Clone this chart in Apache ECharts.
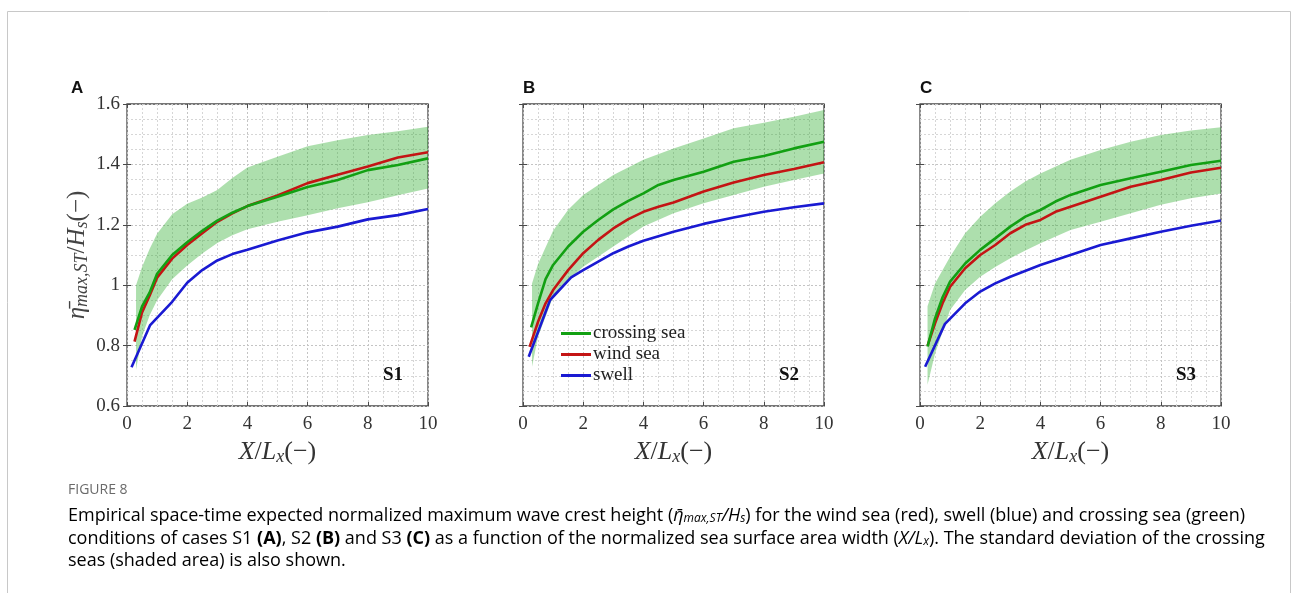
<!DOCTYPE html>
<html><head><meta charset="utf-8">
<script src="https://cdn.jsdelivr.net/npm/echarts@6/dist/echarts.min.js"></script>
<style>html,body{margin:0;padding:0;background:#fff}#c{width:1293px;height:593px}</style>
</head><body><div id="c"></div>
<script>
// ---- data ----
const panelNames = ['A', 'B', 'C'];
const caseNames = ['S1', 'S2', 'S3'];
const seriesNames = ['crossing sea', 'wind sea', 'swell'];
const xTicks = [0, 2, 4, 6, 8, 10];
const yTicks = [0.6, 0.8, 1, 1.2, 1.4, 1.6];

// Panel A (S1)
const swellX_A = [0.15, 0.77, 1.5, 2, 2.5, 3, 3.5, 4, 5, 6, 7, 8, 9, 10];
const swell_A = [0.728, 0.868, 0.945, 1.008, 1.05, 1.082, 1.103, 1.117, 1.148, 1.175, 1.194, 1.218, 1.232, 1.252];
const windX_A = [0.25, 0.5, 0.75, 1, 1.5, 2, 2.5, 3, 3.5, 4, 5, 6, 7, 8, 9, 10];
const wind_A = [0.813, 0.91, 0.965, 1.025, 1.088, 1.133, 1.172, 1.21, 1.238, 1.262, 1.297, 1.338, 1.366, 1.393, 1.423, 1.44];
const crossX_A = [0.25, 0.5, 0.75, 1, 1.5, 2, 2.5, 3, 3.5, 4, 5, 6, 7, 8, 9, 10];
const cross_A = [0.852, 0.93, 0.975, 1.038, 1.1, 1.142, 1.18, 1.214, 1.24, 1.262, 1.293, 1.325, 1.348, 1.381, 1.398, 1.42];
const bandX_A = [0.3, 0.5, 0.75, 1, 1.5, 2, 2.5, 3, 3.5, 4, 5, 6, 7, 8, 9, 10];
const bandUp_A = [1.0, 1.06, 1.12, 1.17, 1.235, 1.27, 1.29, 1.315, 1.355, 1.39, 1.425, 1.46, 1.48, 1.497, 1.51, 1.525];
const bandLo_A = [0.72, 0.83, 0.9, 0.95, 1.02, 1.065, 1.105, 1.14, 1.165, 1.185, 1.21, 1.232, 1.255, 1.275, 1.298, 1.32];

// Panel B (S2)
const swellX_B = [0.19, 0.9, 1.6, 2, 2.5, 3, 3.5, 4, 5, 6, 7, 8, 9, 10];
const swell_B = [0.763, 0.951, 1.026, 1.05, 1.078, 1.106, 1.128, 1.147, 1.177, 1.203, 1.224, 1.243, 1.258, 1.271];
const windX_B = [0.22, 0.5, 0.75, 1, 1.5, 2, 2.5, 3, 3.5, 4, 4.5, 5, 6, 7, 8, 9, 10];
const wind_B = [0.796, 0.879, 0.94, 0.984, 1.05, 1.106, 1.15, 1.188, 1.219, 1.243, 1.26, 1.274, 1.31, 1.34, 1.365, 1.385, 1.407];
const crossX_B = [0.27, 0.5, 0.75, 1, 1.5, 2, 2.5, 3, 3.5, 4, 4.5, 5, 6, 7, 8, 9, 10];
const cross_B = [0.86, 0.94, 1.02, 1.067, 1.128, 1.177, 1.216, 1.251, 1.279, 1.304, 1.332, 1.348, 1.376, 1.409, 1.428, 1.453, 1.475];
const bandX_B = [0.3, 0.5, 1, 1.5, 2, 3, 4, 5, 6, 7, 8, 9, 10];
const bandUp_B = [1.006, 1.07, 1.18, 1.25, 1.299, 1.365, 1.415, 1.453, 1.486, 1.52, 1.538, 1.558, 1.58];
const bandLo_B = [0.73, 0.83, 0.962, 1.017, 1.061, 1.128, 1.194, 1.238, 1.271, 1.299, 1.326, 1.348, 1.37];

// Panel C (S3)
const swellX_C = [0.17, 0.83, 1.5, 2, 2.5, 3, 4, 5, 6, 7, 8, 9, 10];
const swell_C = [0.73, 0.872, 0.94, 0.979, 1.006, 1.028, 1.067, 1.1, 1.133, 1.155, 1.177, 1.197, 1.214];
const windX_C = [0.25, 0.5, 0.75, 1, 1.5, 2, 2.5, 3, 3.5, 4, 4.5, 5, 6, 7, 8, 9, 10];
const wind_C = [0.799, 0.874, 0.94, 0.995, 1.056, 1.1, 1.133, 1.172, 1.2, 1.216, 1.243, 1.26, 1.293, 1.326, 1.348, 1.373, 1.389];
const crossX_C = [0.25, 0.5, 0.75, 1, 1.5, 2, 2.5, 3, 3.5, 4, 4.5, 5, 6, 7, 8, 9, 10];
const cross_C = [0.797, 0.89, 0.96, 1.012, 1.072, 1.117, 1.155, 1.194, 1.227, 1.249, 1.277, 1.299, 1.332, 1.354, 1.376, 1.398, 1.412];
const bandX_C = [0.25, 0.5, 1, 1.5, 2, 2.5, 3, 3.5, 4, 5, 6, 7, 8, 9, 10];
const bandUp_C = [0.93, 1.006, 1.094, 1.172, 1.227, 1.271, 1.31, 1.343, 1.37, 1.415, 1.448, 1.475, 1.497, 1.512, 1.523];
const bandLo_C = [0.67, 0.774, 0.918, 0.984, 1.028, 1.06, 1.089, 1.115, 1.139, 1.183, 1.21, 1.238, 1.266, 1.288, 1.304];

// ---- build ----
const panels = [
  {swellX: swellX_A, swell: swell_A, windX: windX_A, wind: wind_A, crossX: crossX_A, cross: cross_A, bandX: bandX_A, up: bandUp_A, lo: bandLo_A},
  {swellX: swellX_B, swell: swell_B, windX: windX_B, wind: wind_B, crossX: crossX_B, cross: cross_B, bandX: bandX_B, up: bandUp_B, lo: bandLo_B},
  {swellX: swellX_C, swell: swell_C, windX: windX_C, wind: wind_C, crossX: crossX_C, cross: cross_C, bandX: bandX_C, up: bandUp_C, lo: bandLo_C}
];
const GREEN = '#12a012', RED = '#c41414', BLUE = '#1a1ad2';
const BAND = 'rgba(40,170,40,0.38)';
const SERIF = '"Liberation Serif", "DejaVu Serif", serif';
const gridLefts = [127, 523, 920];
const GW = 301, GH = 302, GT = 104;

const zip = (xs, ys) => xs.map((x, i) => [x, ys[i]]);

const grids = [], xAxes = [], yAxes = [], series = [];
const axisColor = '#4a4a4a';
const xName = '{i|X}{n|/}{i|L}{s|x}{n|(−)}';
const yName = '{i|η̄}{s|max,ST}{n|/}{i|H}{s|s}{n|(−)}';
const nameRich = {
  i: {fontFamily: SERIF, fontStyle: 'italic', fontSize: 26, color: '#333'},
  n: {fontFamily: SERIF, fontSize: 26, color: '#333'},
  s: {fontFamily: SERIF, fontStyle: 'italic', fontSize: 18, color: '#333', verticalAlign: 'bottom', padding: [10, 0, 0, 0]}
};
const yNameRich = {
  i: {fontFamily: SERIF, fontStyle: 'italic', fontSize: 25, color: '#444'},
  n: {fontFamily: SERIF, fontSize: 25, color: '#444'},
  s: {fontFamily: SERIF, fontStyle: 'italic', fontSize: 18, color: '#444', verticalAlign: 'bottom', padding: [10, 0, 0, 0]}
};

panels.forEach((p, k) => {
  grids.push({left: gridLefts[k], top: GT, width: GW, height: GH, show: true, borderColor: axisColor, borderWidth: 1.3, backgroundColor: 'transparent'});
  xAxes.push({
    gridIndex: k, type: 'value', position: 'bottom', min: xTicks[0], max: xTicks[xTicks.length - 1], interval: 2,
    axisLine: {show: false}, axisTick: {show: true, inside: true, length: 4, lineStyle: {color: axisColor}},
    minorTick: {show: false, splitNumber: 4},
    splitLine: {show: true, lineStyle: {color: '#c4c4c4', type: [2, 2], width: 1}},
    minorSplitLine: {show: true, lineStyle: {color: '#d6d6d6', type: [2, 2], width: 1}},
    axisLabel: {fontFamily: SERIF, fontSize: 19, color: '#333', margin: 9},
    name: xName, nameLocation: 'middle', nameGap: 25, nameTextStyle: {rich: nameRich}
  });
  xAxes.push({
    gridIndex: k, type: 'value', position: 'top', min: 0, max: 10, interval: 2,
    axisLine: {show: false}, axisTick: {show: true, inside: true, length: 4, lineStyle: {color: axisColor}},
    splitLine: {show: false}, axisLabel: {show: false}
  });
  yAxes.push({
    gridIndex: k, type: 'value', position: 'left', min: yTicks[0], max: yTicks[yTicks.length - 1], interval: 0.2,
    axisLine: {show: false}, axisTick: {show: true, inside: true, length: 4, lineStyle: {color: axisColor}},
    minorTick: {show: false, splitNumber: 4},
    splitLine: {show: true, lineStyle: {color: '#c4c4c4', type: [2, 2], width: 1}},
    minorSplitLine: {show: true, lineStyle: {color: '#d6d6d6', type: [2, 2], width: 1}},
    axisLabel: {show: k === 0, fontFamily: SERIF, fontSize: 19, color: '#333', margin: 7},
    name: k === 0 ? yName : '', nameLocation: 'middle', nameRotate: 90, nameGap: 36, nameTextStyle: {rich: yNameRich}
  });
  yAxes.push({
    gridIndex: k, type: 'value', position: 'right', min: 0.6, max: 1.6, interval: 0.2,
    axisLine: {show: false}, axisTick: {show: true, inside: true, length: 4, lineStyle: {color: axisColor}},
    splitLine: {show: false}, axisLabel: {show: false}
  });
  const xi = 2 * k, yi = 2 * k;
  series.push({
    type: 'custom', name: 'band' + k, xAxisIndex: xi, yAxisIndex: yi, z: 1, silent: true,
    data: p.bandX.map((x, i) => [x, p.lo[i], p.up[i]]),
    encode: {x: 0, y: [1, 2]},
    renderItem: function (params, api) {
      if (params.dataIndex !== 0) return null;
      const pts = [];
      for (let i = 0; i < p.bandX.length; i++) pts.push(api.coord([p.bandX[i], p.up[i]]));
      for (let i = p.bandX.length - 1; i >= 0; i--) pts.push(api.coord([p.bandX[i], p.lo[i]]));
      return {type: 'polygon', shape: {points: pts}, style: {fill: BAND, stroke: null}};
    }
  });
  const line = (name, xs, ys, color) => ({
    type: 'line', name: name, xAxisIndex: xi, yAxisIndex: yi, z: 3, data: zip(xs, ys),
    showSymbol: false, symbol: 'none', lineStyle: {color: color, width: 2.6}, itemStyle: {color: color}, animation: false
  });
  series.push(line(seriesNames[2], p.swellX, p.swell, BLUE));
  series.push(line(seriesNames[1], p.windX, p.wind, RED));
  series.push(line(seriesNames[0], p.crossX, p.cross, GREEN));
});

const capFont = '"Open Sans", "Noto Sans", sans-serif';
const capCol = '#747474';
const capRich = {
  t: {fontFamily: capFont, fontSize: 18, color: capCol},
  b: {fontFamily: capFont, fontSize: 18, color: capCol, fontWeight: 'bold'},
  i: {fontFamily: capFont, fontSize: 18, color: capCol, fontStyle: 'italic'},
  s: {fontFamily: capFont, fontSize: 12, color: capCol, fontStyle: 'italic', verticalAlign: 'bottom', padding: [7, 0, 0, 0]}
};

const graphic = [
  {type: 'rect', shape: {x: 7.5, y: 11.5, width: 1283, height: 600}, style: {fill: 'none', stroke: '#c8c8c8', lineWidth: 1}, silent: true, z: 0}
];
panelNames.forEach((n, k) => {
  graphic.push({type: 'text', x: [71, 523, 920][k], y: 80, style: {text: n, font: 'bold 17px "Liberation Sans", Arial, sans-serif', fill: '#111'}, z: 10});
  graphic.push({type: 'text', x: gridLefts[k] + GW - 45, y: 366, style: {text: caseNames[k], font: 'bold 19px ' + SERIF, fill: '#111'}, z: 10});
});
graphic.push({type: 'text', x: 68, y: 483, style: {text: 'FIGURE 8', font: '14px ' + capFont, fill: '#6a6a6a'}});
graphic.push({type: 'text', x: 68, y: 506, style: {
  text: '{t|Empirical space-time expected normalized maximum wave crest height (}{i|η̄}{s|max,ST}{i|/H}{s|s}{t|) for the wind sea (red), swell (blue) and crossing sea (green)}',
  rich: capRich}});
graphic.push({type: 'text', x: 68, y: 529, style: {
  text: '{t|conditions of cases S1 }{b|(A)}{t|, S2 }{b|(B)}{t| and S3 }{b|(C)}{t| as a function of the normalized sea surface area width (}{i|X/L}{s|x}{t|). The standard deviation of the crossing}',
  rich: capRich}});
graphic.push({type: 'text', x: 68, y: 552, style: {text: '{t|seas (shaded area) is also shown.}', rich: capRich}});

const chart = echarts.init(document.getElementById('c'), null, {renderer: 'canvas'});
chart.setOption({
  animation: false,
  backgroundColor: '#fff',
  grid: grids, xAxis: xAxes, yAxis: yAxes, series: series,
  legend: {
    data: seriesNames, orient: 'vertical', left: 556, top: 319, itemWidth: 30, itemHeight: 3, itemGap: 2,
    icon: 'rect', selectedMode: false,
    textStyle: {fontFamily: SERIF, fontSize: 19, color: '#222', padding: [0, 0, 0, -3]}
  },
  graphic: graphic
});
</script></body></html>
